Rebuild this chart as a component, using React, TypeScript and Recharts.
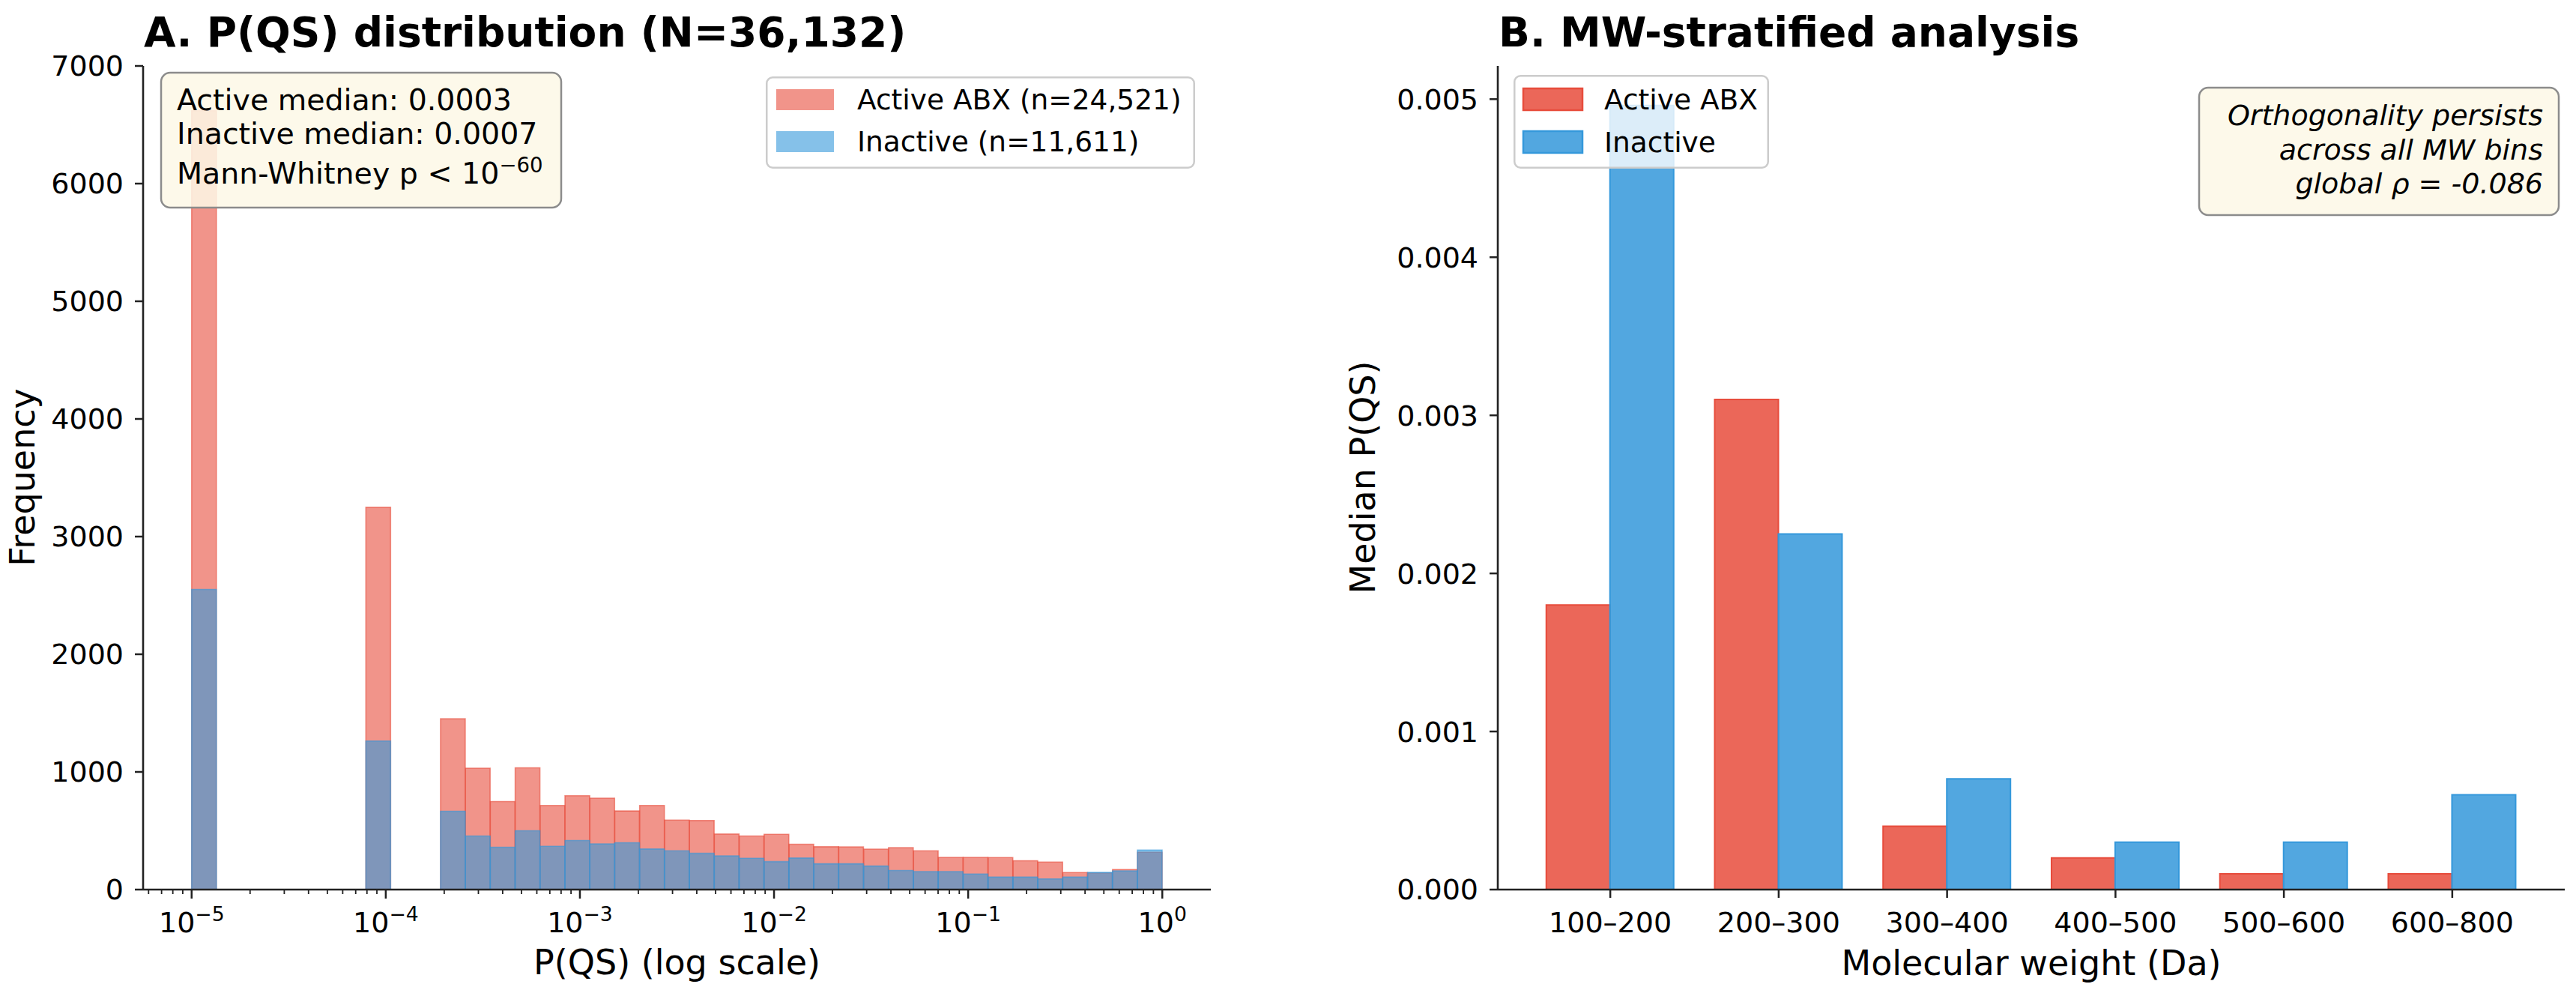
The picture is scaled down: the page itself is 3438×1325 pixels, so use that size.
import React from "react";
import { BarChart, Bar, XAxis, YAxis, Legend } from "recharts";

const FONT = "DejaVu Sans";
const INK = "#000";
const SPINE = "#222";

// ---- Panel A: P(QS) histogram, 39 log-spaced bins from 1e-5 to 1e0 ----
const LOG_MIN = -5;
const LOG_MAX = 0;
const ACTIVE_COUNTS = [
  6620, 0, 0, 0, 0, 0, 0, 3249, 0, 0,
  1452, 1032, 748, 1035, 715, 798, 777, 668, 715, 591,
  587, 472, 455, 470, 385, 364, 362, 343, 357, 330,
  274, 274, 272, 245, 234, 145, 142, 170, 317,
];
const INACTIVE_COUNTS = [
  2551, 0, 0, 0, 0, 0, 0, 1263, 0, 0,
  666, 455, 360, 500, 368, 417, 389, 398, 345, 330,
  308, 287, 266, 238, 268, 219, 219, 200, 162, 153,
  153, 132, 106, 106, 91, 106, 146, 159, 336,
];
const N_BINS = ACTIVE_COUNTS.length;
const BIN_CENTERS = ACTIVE_COUNTS.map(
  (_, i) => LOG_MIN + ((i + 0.5) * (LOG_MAX - LOG_MIN)) / N_BINS
);
const LOG_MAJOR = [-5, -4, -3, -2, -1, 0];
const HIST_DOMAIN: [number, number] = [-5.25, 0.25];
const FREQ_TICKS = [0, 1000, 2000, 3000, 4000, 5000, 6000, 7000];

const LOG_MINOR: number[] = [];
for (let n = -6; n <= 0; n++) {
  for (let k = 2; k <= 9; k++) {
    const v = n + Math.log10(k);
    if (v >= HIST_DOMAIN[0] && v <= HIST_DOMAIN[1]) LOG_MINOR.push(v);
  }
}

// ---- Panel B: median P(QS) per molecular-weight bin ----
const MW_BINS = ["100–200", "200–300", "300–400", "400–500", "500–600", "600–800"];
const MW_ACTIVE = [0.0018, 0.0031, 0.0004, 0.0002, 0.0001, 0.0001];
const MW_INACTIVE = [0.00496, 0.00225, 0.0007, 0.0003, 0.0003, 0.0006];
const MEDIAN_TICKS = [0, 0.001, 0.002, 0.003, 0.004, 0.005];
const MW_DOMAIN: [number, number] = [-0.668, 5.668];

const ACTIVE_COLOR = "#e74c3c";
const INACTIVE_COLOR = "#3498db";

const histData = BIN_CENTERS.map((x, i) => ({
  x,
  active: ACTIVE_COUNTS[i],
  inactive: INACTIVE_COUNTS[i],
}));
const mwData = MW_BINS.map((_, i) => ({
  x: i,
  active: MW_ACTIVE[i],
  inactive: MW_INACTIVE[i],
}));

function LogTick(props: any) {
  const { x, y, payload } = props;
  const v = payload.value;
  const major = LOG_MAJOR.includes(v);
  return (
    <g>
      <line x1={x} y1={y} x2={x} y2={y + (major ? 12 : 6)} stroke={SPINE} strokeWidth={major ? 2.5 : 1.8} />
      {major && (
        <text x={x} y={y + 57} textAnchor="middle" fontFamily={FONT} fontSize={38} fill={INK}>
          10
          <tspan dy={-15} fontSize={26.6}>{v < 0 ? `\u2212${-v}` : String(v)}</tspan>
        </text>
      )}
    </g>
  );
}

type LegendLayout = {
  width: number;
  height: number;
  swatchX: number;
  swatchW: number;
  swatchH: number;
  swatchY: number[];
  textX: number;
  baselines: number[];
  opacity: number;
  edge: boolean;
};

function LegendBox({ payload, layout }: { payload?: any[]; layout: LegendLayout }) {
  const items = payload ?? [];
  return (
    <svg width={layout.width} height={layout.height} style={{ display: "block" }}>
      <rect x={1.25} y={1.25} width={layout.width - 2.5} height={layout.height - 2.5} rx={8}
        fill="#fff" fillOpacity={0.8} stroke="#cccccc" strokeWidth={2.5} />
      {items.map((it, i) => (
        <g key={i}>
          <rect x={layout.swatchX} y={layout.swatchY[i]} width={layout.swatchW} height={layout.swatchH}
            fill={it.color} fillOpacity={layout.opacity}
            stroke={layout.edge ? it.color : "none"} strokeWidth={2.5} />
          <text x={layout.textX} y={layout.baselines[i]} fontFamily={FONT} fontSize={37.5} fill={INK}>
            {it.value}
          </text>
        </g>
      ))}
    </svg>
  );
}

const LEFT_LEGEND: LegendLayout = {
  width: 573, height: 123, swatchX: 14, swatchW: 77, swatchH: 28,
  swatchY: [17, 73], textX: 122, baselines: [44, 100], opacity: 0.6, edge: false,
};
const RIGHT_LEGEND: LegendLayout = {
  width: 341, height: 125, swatchX: 13, swatchW: 79, swatchH: 29,
  swatchY: [18, 75], textX: 121, baselines: [46, 103], opacity: 0.85, edge: true,
};

const axisLine = { stroke: SPINE, strokeWidth: 2.6 };
const tickLine = { stroke: SPINE, strokeWidth: 2.5 };
const tickFont = { fontSize: 38, fontFamily: FONT, fill: INK };

function Overlay() {
  return (
    <svg width={3438} height={1325} fontFamily={FONT} fill={INK}
      style={{ position: "absolute", left: 0, top: 0, pointerEvents: "none" }}>
      <text x={192} y={62} fontSize={55} fontWeight="bold">A. P(QS) distribution (N=36,132)</text>
      <text x={2000} y={62} fontSize={55} fontWeight="bold">B. MW-stratified analysis</text>

      <text transform="translate(46,637) rotate(-90)" textAnchor="middle" fontSize={46}>Frequency</text>
      <text transform="translate(1835,637) rotate(-90)" textAnchor="middle" fontSize={46}>Median P(QS)</text>
      <text x={903.5} y={1300} textAnchor="middle" fontSize={46}>P(QS) (log scale)</text>
      <text x={2711} y={1301} textAnchor="middle" fontSize={46}>Molecular weight (Da)</text>

      <rect x={215} y={97} width={534} height={180} rx={12}
        fill="#fdf8e6" fillOpacity={0.86} stroke="#8c8c8c" strokeWidth={2.5} />
      <text x={236} y={147} fontSize={39.5}>Active median: 0.0003</text>
      <text x={236} y={192} fontSize={39.5}>Inactive median: 0.0007</text>
      <text x={236} y={245} fontSize={39.5}>
        Mann-Whitney p &lt; 10
        <tspan dy={-15} fontSize={27.6}>{"\u221260"}</tspan>
      </text>

      <rect x={2935} y={117} width={480} height={170} rx={12}
        fill="#fdf8e6" fillOpacity={0.86} stroke="#8c8c8c" strokeWidth={2.5} />
      <text x={3394} y={167} textAnchor="end" fontSize={38} fontStyle="italic">Orthogonality persists</text>
      <text x={3394} y={213} textAnchor="end" fontSize={38} fontStyle="italic">across all MW bins</text>
      <text x={3394} y={258} textAnchor="end" fontSize={38} fontStyle="italic">global ρ = -0.086</text>
    </svg>
  );
}

export default function App() {
  return (
    <div style={{ position: "absolute", left: 0, top: 0, width: 3438, height: 1325, background: "#fff", fontFamily: FONT }}>
      <div style={{ position: "absolute", left: 0, top: 0 }}>
        <BarChart width={1640} height={1325} data={histData}
          margin={{ top: 88, right: 24, left: 0, bottom: 0 }} barCategoryGap={0} barGap={0}>
          <XAxis xAxisId="a" type="number" dataKey="x" domain={HIST_DOMAIN} allowDataOverflow
            ticks={[...LOG_MINOR, ...LOG_MAJOR]} interval={0} height={138}
            tickSize={0} tickMargin={0} tickLine={false} axisLine={axisLine} tick={<LogTick />} />
          <XAxis xAxisId="b" type="number" dataKey="x" domain={HIST_DOMAIN} allowDataOverflow hide />
          <YAxis type="number" domain={[0, 7000]} ticks={FREQ_TICKS} interval={0} width={191}
            tickSize={11} tickMargin={15} tickLine={tickLine} axisLine={axisLine} tick={tickFont} />
          <Legend layout="horizontal" align="center" verticalAlign="middle"
            wrapperStyle={{ left: 1022, top: 102, width: 573, height: 123 }}
            content={(p: any) => <LegendBox payload={p.payload} layout={LEFT_LEGEND} />} />
          <Bar xAxisId="a" dataKey="active" name="Active ABX (n=24,521)" fill={ACTIVE_COLOR}
            fillOpacity={0.6} stroke={ACTIVE_COLOR} strokeOpacity={0.6} strokeWidth={1.6}
            isAnimationActive={false} />
          <Bar xAxisId="b" dataKey="inactive" name="Inactive (n=11,611)" fill={INACTIVE_COLOR}
            fillOpacity={0.6} stroke={INACTIVE_COLOR} strokeOpacity={0.6} strokeWidth={1.6}
            isAnimationActive={false} />
        </BarChart>
      </div>

      <div style={{ position: "absolute", left: 1760, top: 0 }}>
        <BarChart width={1678} height={1325} data={mwData}
          margin={{ top: 88, right: 15, left: 0, bottom: 0 }} barCategoryGap="12%" barGap={0}>
          <XAxis type="number" dataKey="x" domain={MW_DOMAIN} allowDataOverflow
            ticks={[0, 1, 2, 3, 4, 5]} interval={0} height={138}
            tickFormatter={(i: number) => MW_BINS[i] ?? ""}
            tickSize={11} tickMargin={19} tickLine={tickLine} axisLine={axisLine} tick={tickFont} />
          <YAxis type="number" domain={[0, 0.00521]} allowDataOverflow ticks={MEDIAN_TICKS} interval={0}
            width={239} tickFormatter={(v: number) => v.toFixed(3)}
            tickSize={11} tickMargin={15} tickLine={tickLine} axisLine={axisLine} tick={tickFont} />
          <Legend layout="horizontal" align="center" verticalAlign="middle"
            wrapperStyle={{ left: 260, top: 100, width: 341, height: 125 }}
            content={(p: any) => <LegendBox payload={p.payload} layout={RIGHT_LEGEND} />} />
          <Bar dataKey="active" name="Active ABX" fill={ACTIVE_COLOR} fillOpacity={0.85}
            stroke={ACTIVE_COLOR} strokeWidth={2} isAnimationActive={false} />
          <Bar dataKey="inactive" name="Inactive" fill={INACTIVE_COLOR} fillOpacity={0.85}
            stroke={INACTIVE_COLOR} strokeWidth={2} isAnimationActive={false} />
        </BarChart>
      </div>

      <Overlay />
    </div>
  );
}
